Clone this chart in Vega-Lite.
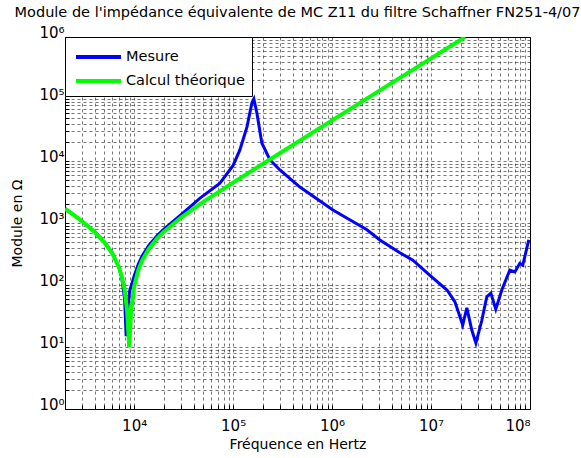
{
  "$schema": "https://vega.github.io/schema/vega-lite/v6.json",
  "autosize": {"type": "none"},
  "padding": {"left": 65, "top": 37, "right": 51, "bottom": 49},
  "width": 465,
  "height": 372,
  "background": "white",
  "config": {
    "font": "DejaVu Sans",
    "view": {"stroke": "black", "strokeWidth": 1}
  },
  "title": {
    "text": "Module de l'impédance équivalente de MC Z11 du filtre Schaffner FN251-4/07",
    "fontSize": 14.5,
    "fontWeight": "normal",
    "font": "DejaVu Sans",
    "color": "black",
    "anchor": "middle",
    "offset": 5
  },
  "datasets": {
    "curves": [
      {"f": 2000, "z": 1700, "serie": "Mesure"},
      {"f": 2500, "z": 1320, "serie": "Mesure"},
      {"f": 3000, "z": 1060, "serie": "Mesure"},
      {"f": 4000, "z": 720, "serie": "Mesure"},
      {"f": 5000, "z": 495, "serie": "Mesure"},
      {"f": 6000, "z": 330, "serie": "Mesure"},
      {"f": 7000, "z": 195, "serie": "Mesure"},
      {"f": 7500, "z": 130, "serie": "Mesure"},
      {"f": 8000, "z": 60, "serie": "Mesure"},
      {"f": 8300, "z": 15, "serie": "Mesure"},
      {"f": 8600, "z": 40, "serie": "Mesure"},
      {"f": 9000, "z": 80, "serie": "Mesure"},
      {"f": 10000, "z": 140, "serie": "Mesure"},
      {"f": 11000, "z": 215, "serie": "Mesure"},
      {"f": 12000, "z": 290, "serie": "Mesure"},
      {"f": 14000, "z": 430, "serie": "Mesure"},
      {"f": 17000, "z": 620, "serie": "Mesure"},
      {"f": 20000, "z": 800, "serie": "Mesure"},
      {"f": 30000, "z": 1380, "serie": "Mesure"},
      {"f": 46000, "z": 2500, "serie": "Mesure"},
      {"f": 73600, "z": 4400, "serie": "Mesure"},
      {"f": 100000, "z": 8500, "serie": "Mesure"},
      {"f": 117000, "z": 15100, "serie": "Mesure"},
      {"f": 138000, "z": 35500, "serie": "Mesure"},
      {"f": 155000, "z": 87000, "serie": "Mesure"},
      {"f": 162000, "z": 100000, "serie": "Mesure"},
      {"f": 174000, "z": 59000, "serie": "Mesure"},
      {"f": 195000, "z": 19500, "serie": "Mesure"},
      {"f": 235000, "z": 10500, "serie": "Mesure"},
      {"f": 297000, "z": 7160, "serie": "Mesure"},
      {"f": 473000, "z": 3800, "serie": "Mesure"},
      {"f": 1020000, "z": 1620, "serie": "Mesure"},
      {"f": 2250000, "z": 776, "serie": "Mesure"},
      {"f": 3040000, "z": 532, "serie": "Mesure"},
      {"f": 4840000, "z": 331, "serie": "Mesure"},
      {"f": 6550000, "z": 251, "serie": "Mesure"},
      {"f": 10000000, "z": 138, "serie": "Mesure"},
      {"f": 14500000, "z": 83, "serie": "Mesure"},
      {"f": 17400000, "z": 54, "serie": "Mesure"},
      {"f": 20900000, "z": 22.6, "serie": "Mesure"},
      {"f": 23000000, "z": 42.7, "serie": "Mesure"},
      {"f": 25800000, "z": 18.8, "serie": "Mesure"},
      {"f": 28400000, "z": 11.6, "serie": "Mesure"},
      {"f": 32600000, "z": 27, "serie": "Mesure"},
      {"f": 36600000, "z": 64.6, "serie": "Mesure"},
      {"f": 40200000, "z": 74, "serie": "Mesure"},
      {"f": 45100000, "z": 40.7, "serie": "Mesure"},
      {"f": 51900000, "z": 83, "serie": "Mesure"},
      {"f": 62500000, "z": 174, "serie": "Mesure"},
      {"f": 70300000, "z": 162, "serie": "Mesure"},
      {"f": 78900000, "z": 224, "serie": "Mesure"},
      {"f": 84500000, "z": 209, "serie": "Mesure"},
      {"f": 97300000, "z": 537, "serie": "Mesure"},
      {"f": 2000, "z": 1698, "serie": "Calcul théorique"},
      {"f": 2500, "z": 1317, "serie": "Calcul théorique"},
      {"f": 3000, "z": 1056, "serie": "Calcul théorique"},
      {"f": 4000, "z": 713, "serie": "Calcul théorique"},
      {"f": 5000, "z": 489, "serie": "Calcul théorique"},
      {"f": 6000, "z": 325, "serie": "Calcul théorique"},
      {"f": 7000, "z": 194, "serie": "Calcul théorique"},
      {"f": 7500, "z": 138, "serie": "Calcul théorique"},
      {"f": 8000, "z": 85, "serie": "Calcul théorique"},
      {"f": 8500, "z": 37.7, "serie": "Calcul théorique"},
      {"f": 8900, "z": 10, "serie": "Calcul théorique"},
      {"f": 9300, "z": 37.5, "serie": "Calcul théorique"},
      {"f": 10000, "z": 95.2, "serie": "Calcul théorique"},
      {"f": 11000, "z": 172.5, "serie": "Calcul théorique"},
      {"f": 12000, "z": 245, "serie": "Calcul théorique"},
      {"f": 14000, "z": 378, "serie": "Calcul théorique"},
      {"f": 17000, "z": 559, "serie": "Calcul théorique"},
      {"f": 20000, "z": 726, "serie": "Calcul théorique"},
      {"f": 30000, "z": 1238, "serie": "Calcul théorique"},
      {"f": 50000, "z": 2190, "serie": "Calcul théorique"},
      {"f": 100000, "z": 4488, "serie": "Calcul théorique"},
      {"f": 1000000, "z": 45239, "serie": "Calcul théorique"},
      {"f": 10000000, "z": 452390, "serie": "Calcul théorique"},
      {"f": 22100000, "z": 1000000, "serie": "Calcul théorique"}
    ]
  },
  "layer": [
    {
      "data": {"name": "curves"},
      "transform": [{"filter": "datum.serie == 'Mesure'"}],
      "mark": {"type": "line", "strokeWidth": 3, "clip": true},
      "encoding": {
        "x": {
          "field": "f", "type": "quantitative",
          "scale": {"type": "log", "domain": [2000, 100000000], "nice": false},
          "axis": {
            "title": "Fréquence en Hertz",
            "titleFontSize": 14, "titleFontWeight": "normal", "titleColor": "black", "titlePadding": 4,
            "values": [2000,3000,4000,5000,6000,7000,8000,9000,10000,20000,30000,40000,50000,60000,70000,80000,90000,100000,200000,300000,400000,500000,600000,700000,800000,900000,1000000,2000000,3000000,4000000,5000000,6000000,7000000,8000000,9000000,10000000,20000000,30000000,40000000,50000000,60000000,70000000,80000000,90000000,100000000],
            "labelExpr": "datum.value == 10000 ? '10⁴' : datum.value == 100000 ? '10⁵' : datum.value == 1000000 ? '10⁶' : datum.value == 10000000 ? '10⁷' : datum.value == 100000000 ? '10⁸' : ''",
            "labelFontSize": 15, "labelColor": "black", "labelPadding": 13,
            "tickSize": -4, "tickColor": "black", "domainColor": "black",
            "grid": true, "gridColor": "black", "gridDash": [3, 3], "gridWidth": 0.6, "gridOpacity": 0.9
          }
        },
        "y": {
          "field": "z", "type": "quantitative",
          "scale": {"type": "log", "domain": [1, 1000000], "nice": false},
          "axis": {
            "title": "Module en Ω",
            "titleFontSize": 14, "titleFontWeight": "normal", "titleColor": "black", "titlePadding": 14,
            "values": [1,2,3,4,5,6,7,8,9,10,20,30,40,50,60,70,80,90,100,200,300,400,500,600,700,800,900,1000,2000,3000,4000,5000,6000,7000,8000,9000,10000,20000,30000,40000,50000,60000,70000,80000,90000,100000,200000,300000,400000,500000,600000,700000,800000,900000,1000000],
            "labelExpr": "datum.value == 1 ? '10⁰' : datum.value == 10 ? '10¹' : datum.value == 100 ? '10²' : datum.value == 1000 ? '10³' : datum.value == 10000 ? '10⁴' : datum.value == 100000 ? '10⁵' : datum.value == 1000000 ? '10⁶' : ''",
            "labelFontSize": 15, "labelColor": "black", "labelPadding": 5, "labelBaseline": "alphabetic",
            "tickSize": -4, "tickColor": "black", "domainColor": "black",
            "grid": true, "gridColor": "black", "gridDash": [3, 3], "gridWidth": 0.6, "gridOpacity": 0.9
          }
        },
        "color": {
          "field": "serie", "type": "nominal",
          "scale": {"domain": ["Mesure", "Calcul théorique"], "range": ["#0000ff", "#00ff00"]},
          "legend": {
            "title": null,
            "orient": "none", "legendX": 0, "legendY": 0,
            "symbolType": "M-0.818,0H3.27",
            "symbolSize": 484, "symbolStrokeWidth": 4, "symbolFillColor": "transparent",
            "labelFontSize": 14.5, "labelColor": "black", "labelOffset": 28,
            "rowPadding": 3, "padding": 7,
            "strokeColor": "black", "fillColor": "white"
          }
        }
      }
    },
    {
      "data": {"name": "curves"},
      "transform": [{"filter": "datum.serie == 'Calcul théorique'"}],
      "mark": {"type": "line", "strokeWidth": 4, "clip": true},
      "encoding": {
        "x": {"field": "f", "type": "quantitative"},
        "y": {"field": "z", "type": "quantitative"},
        "color": {"field": "serie", "type": "nominal"}
      }
    }
  ]
}
